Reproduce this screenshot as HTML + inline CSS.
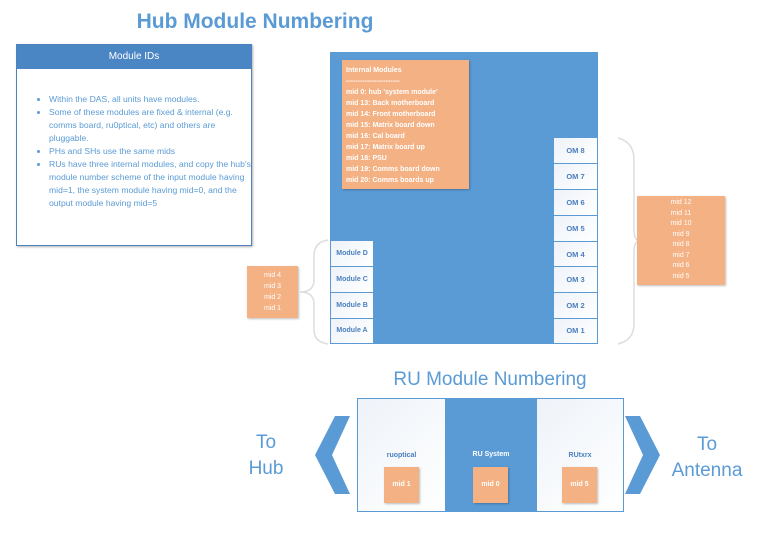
<!DOCTYPE html>
<html><head><style>
body{margin:0;width:768px;height:543px;background:#fff;position:relative;overflow:hidden;font-family:"Liberation Sans",sans-serif}
.a{position:absolute}
.or{background:#f4b183;color:#fff;font-size:7px;box-shadow:1px 1px 2px rgba(0,0,0,.25)}
.cell{position:absolute;background:linear-gradient(135deg,#eef3f9,#fff);border:1px solid #5b9bd5;box-sizing:border-box;color:#4a7fbf;font-size:7.5px;font-weight:bold;text-align:center}
</style></head><body>
<div class="a" style="left:0;width:510px;top:10px;text-align:center;font-size:21px;font-weight:bold;color:#5b9bd5">Hub Module Numbering</div>

<div class="a" style="left:16px;top:44px;width:236px;height:202px;border:1px solid #4f81bd;box-sizing:border-box;box-shadow:1px 1px 2px rgba(0,0,0,.3)">
 <div style="background:#4a85c4;height:24px;color:#fff;font-size:10px;text-align:center;line-height:24px">Module IDs</div>
 <ul style="margin:24px 0 0 0;padding-left:32px;color:#5b9bd5;font-size:8.6px;line-height:13px">
 <li>Within the DAS, all units have modules.</li>
 <li>Some of these modules are fixed &amp; internal (e.g. comms board, ru0ptical, etc) and others are pluggable.</li>
 <li>PHs and SHs use the same mids</li>
 <li>RUs have three internal modules, and copy the hub’s module number scheme of the input module having mid=1, the system module having mid=0, and the output module having mid=5</li>
 </ul>
</div>

<div class="a" style="left:330px;top:52px;width:268px;height:292px;background:#5b9bd5"></div>
<div class="a or" style="left:342px;top:60px;width:127px;height:129px;padding:5px 4px;box-sizing:border-box;line-height:11px;font-weight:bold">Internal Modules<br>-----------------------<br>mid 0: hub 'system module'<br>mid 13: Back motherboard<br>mid 14: Front motherboard<br>mid 15: Matrix board down<br>mid 16: Cal board<br>mid 17: Matrix board up<br>mid 18: PSU<br>mid 19: Comms board down<br>mid 20: Comms boards up</div>

<div class="cell" style="left:553px;top:137px;width:45px;height:27px;line-height:25px">OM 8</div>
<div class="cell" style="left:553px;top:163px;width:45px;height:27px;line-height:25px">OM 7</div>
<div class="cell" style="left:553px;top:189px;width:45px;height:27px;line-height:25px">OM 6</div>
<div class="cell" style="left:553px;top:215px;width:45px;height:27px;line-height:25px">OM 5</div>
<div class="cell" style="left:553px;top:241px;width:45px;height:27px;line-height:25px">OM 4</div>
<div class="cell" style="left:553px;top:266px;width:45px;height:27px;line-height:25px">OM 3</div>
<div class="cell" style="left:553px;top:292px;width:45px;height:27px;line-height:25px">OM 2</div>
<div class="cell" style="left:553px;top:318px;width:45px;height:26px;line-height:24px">OM 1</div>

<div class="cell" style="left:330px;top:240px;width:44px;height:27px;line-height:25px;font-size:7px">Module D</div>
<div class="cell" style="left:330px;top:266px;width:44px;height:27px;line-height:25px;font-size:7px">Module C</div>
<div class="cell" style="left:330px;top:292px;width:44px;height:27px;line-height:25px;font-size:7px">Module B</div>
<div class="cell" style="left:330px;top:318px;width:44px;height:26px;line-height:24px;font-size:7px">Module A</div>

<svg class="a" style="left:0;top:0" width="768" height="543">
 <path d="M328 240 Q314 242 314 256 L314 280 Q314 292 300 292 Q314 292 314 304 L314 330 Q314 342 328 344" fill="none" stroke="#ddd" stroke-width="1.5"/>
 <path d="M618 138 Q634 142 634 160 L634 230 Q634 241 640 241 Q634 241 634 252 L634 324 Q634 340 618 344" fill="none" stroke="#ddd" stroke-width="1.5"/>
 <polygon points="350,416 335,416 315,455 335,494 350,494 332,455" fill="#5b9bd5"/>
 <polygon points="625,416 640,416 660,455 640,494 625,494 643,455" fill="#5b9bd5"/>
</svg>

<div class="a or" style="left:247px;top:266px;width:51px;height:52px;text-align:center;line-height:11px;padding-top:4px;box-sizing:border-box">mid 4<br>mid 3<br>mid 2<br>mid 1</div>
<div class="a or" style="left:637px;top:196px;width:88px;height:89px;text-align:center;line-height:10.5px;padding-top:2px;box-sizing:border-box">mid 12<br>mid 11<br>mid 10<br>mid 9<br>mid 8<br>mid 7<br>mid 6<br>mid 5</div>

<div class="a" style="left:340px;width:300px;top:369px;text-align:center;font-size:19px;color:#5b9bd5">RU Module Numbering</div>

<div class="cell" style="left:357px;top:398px;width:89px;height:114px;font-size:7px;padding-top:53px">ruoptical</div>
<div class="a" style="left:445px;top:398px;width:92px;height:114px;background:#5b9bd5;color:#fff;font-size:7px;font-weight:bold;text-align:center;box-sizing:border-box;padding-top:53px">RU System</div>
<div class="cell" style="left:536px;top:398px;width:88px;height:114px;font-size:7px;padding-top:53px">RUtxrx</div>
<div class="a or" style="left:384px;top:467px;width:35px;height:36px;text-align:center;line-height:36px;font-weight:bold">mid 1</div>
<div class="a or" style="left:473px;top:467px;width:35px;height:36px;text-align:center;line-height:36px;font-weight:bold">mid 0</div>
<div class="a or" style="left:562px;top:467px;width:35px;height:36px;text-align:center;line-height:36px;font-weight:bold">mid 5</div>

<div class="a" style="left:236px;width:60px;top:430px;text-align:center;font-size:19px;line-height:26px;color:#5b9bd5">To<br>Hub</div>
<div class="a" style="left:662px;width:90px;top:432px;text-align:center;font-size:19px;line-height:26px;color:#5b9bd5">To<br>Antenna</div>
</body></html>
